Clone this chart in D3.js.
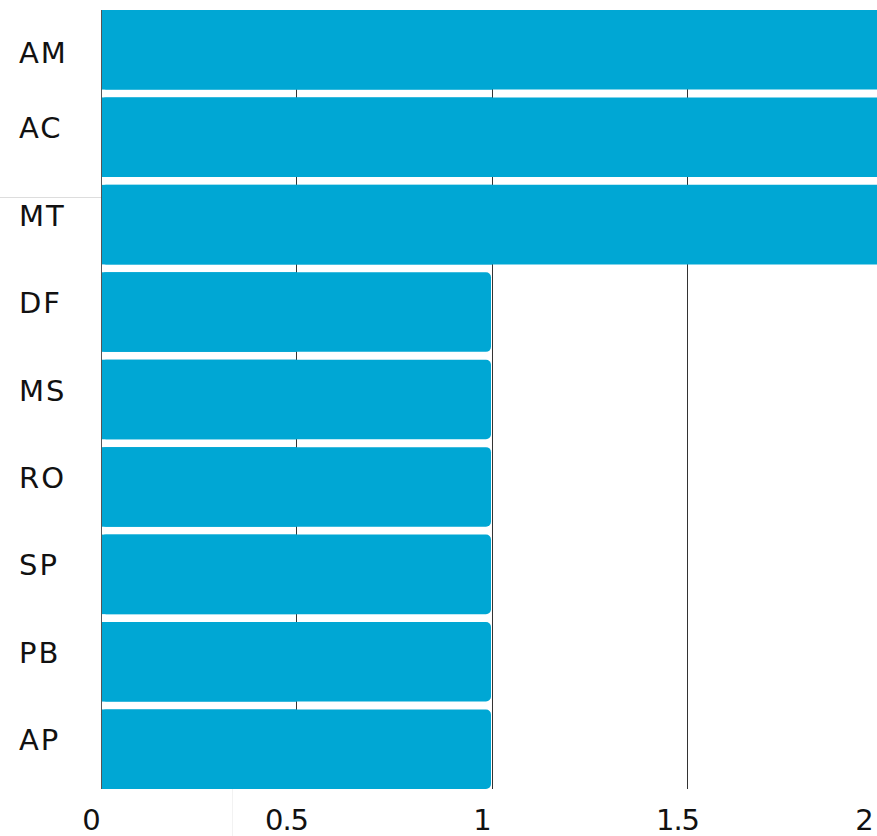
<!DOCTYPE html>
<html>
<head>
<meta charset="utf-8">
<script src="https://cdn.jsdelivr.net/npm/d3@7"></script>
<style>
  body { margin: 0; background: #fff; overflow: hidden; }
  svg { display: block; }
</style>
</head>
<body>
<svg id="chart" width="877" height="836"></svg>
<script>
// states and their values
var states = ["AM", "AC", "MT", "DF", "MS", "RO", "SP", "PB", "AP"];
var values = [2, 2, 2, 1, 1, 1, 1, 1, 1];
var xTicks = [0, 0.5, 1, 1.5, 2];
var xTickLabels = ["0", "0.5", "1", "1.5", "2"];

var svg = d3.select("#chart"),
    margin = {top: 10, right: -6, bottom: 47, left: 101},
    width = +svg.attr("width") - margin.left - margin.right,
    height = +svg.attr("height") - margin.top - margin.bottom;

var data = states.map(function(s, i) { return {state: s, value: values[i]}; });

var x = d3.scaleLinear().domain([0, 2]).range([0, width]);
var y = d3.scaleBand().domain(states).range([0, height]).paddingInner(0.09).paddingOuter(0);

var g = svg.append("g").attr("transform", "translate(" + margin.left + "," + margin.top + ")");

// faint stray rules
svg.append("line")
    .attr("x1", 0).attr("x2", margin.left)
    .attr("y1", 197.5).attr("y2", 197.5)
    .attr("stroke", "#ddd");
svg.append("line")
    .attr("x1", 232.5).attr("x2", 232.5)
    .attr("y1", margin.top + height).attr("y2", 836)
    .attr("stroke", "#f2f2f2");

// gridlines
g.selectAll("line.grid")
    .data(xTicks.slice(1, -1))
    .enter()
    .append("line")
    .attr("class", "grid")
    .attr("x1", function(d) { return Math.floor(x(d)) + 0.5; })
    .attr("x2", function(d) { return Math.floor(x(d)) + 0.5; })
    .attr("y1", 0)
    .attr("y2", height)
    .attr("stroke", "#333")
    .attr("stroke-width", 1);

// bars
g.selectAll("rect.bar")
    .data(data)
    .enter()
    .append("rect")
    .attr("class", "bar")
    .attr("fill", "#00a7d4")
    .attr("x", 0)
    .attr("y", function(d) { return y(d.state); })
    .attr("width", function(d) { return x(d.value) - 1; })
    .attr("height", y.bandwidth())
    .attr("rx", 5)
    .attr("ry", 5);

// square off the left end of each bar
g.selectAll("rect.barleft")
    .data(data)
    .enter()
    .append("rect")
    .attr("class", "barleft")
    .attr("fill", "#00a7d4")
    .attr("x", 0)
    .attr("y", function(d) { return y(d.state); })
    .attr("width", function(d) { return x(d.value) / 2; })
    .attr("height", y.bandwidth());

// y axis line
g.append("line")
    .attr("x1", 0.5).attr("x2", 0.5)
    .attr("y1", 0).attr("y2", height)
    .attr("stroke", "#555")
    .attr("stroke-width", 1);

// y labels
g.selectAll("text.ylab")
    .data(data)
    .enter()
    .append("text")
    .attr("class", "ylab")
    .attr("font-family", "DejaVu Sans, Verdana, sans-serif")
    .attr("font-size", 29)
    .attr("letter-spacing", 2)
    .attr("fill", "#111")
    .attr("x", 19 - margin.left)
    .attr("y", function(d) { return Math.max(y(d.state) + y.bandwidth() / 2 - 10, 42) + 11; })
    .text(function(d) { return d.state; });

// x tick labels (last one kept inside the window)
g.selectAll("text.xlab")
    .data(xTicks)
    .enter()
    .append("text")
    .attr("class", "xlab")
    .attr("font-family", "DejaVu Sans, Verdana, sans-serif")
    .attr("font-size", 29)
    .attr("letter-spacing", -1)
    .attr("text-anchor", "middle")
    .attr("fill", "#111")
    .attr("x", function(d) { return Math.min(x(d) - 10, width - 19); })
    .attr("y", height + 41)
    .text(function(d, i) { return xTickLabels[i]; });
</script>
</body>
</html>
